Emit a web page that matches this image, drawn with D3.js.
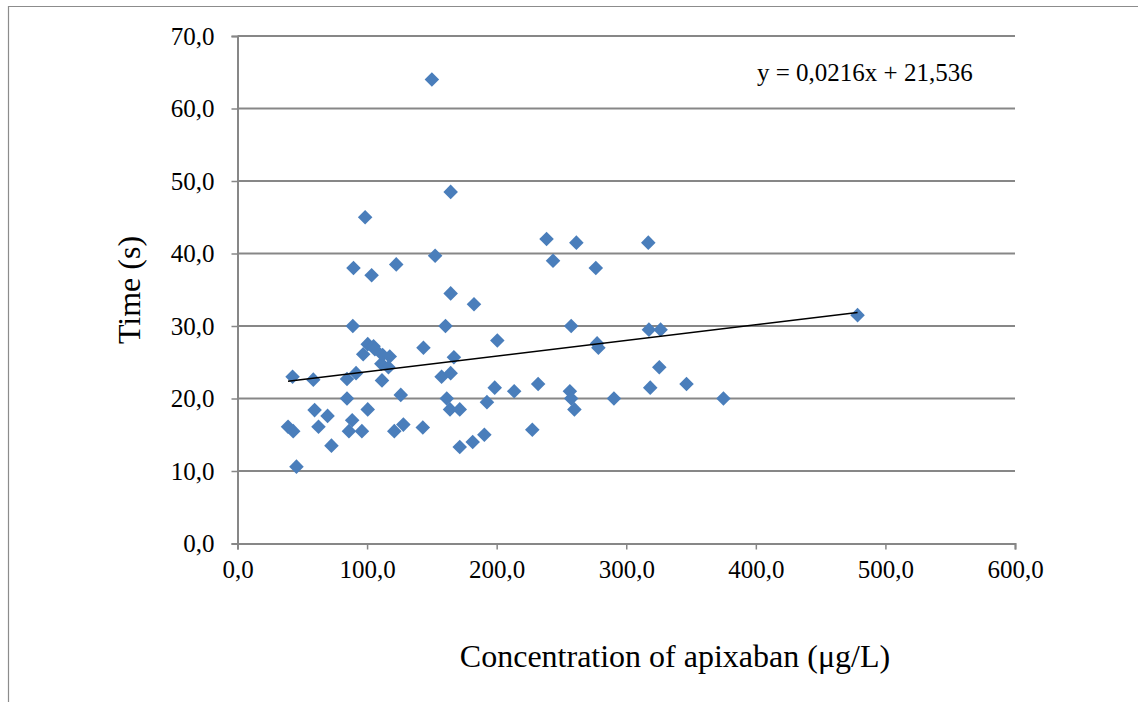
<!DOCTYPE html>
<html><head><meta charset="utf-8">
<script src="https://cdn.jsdelivr.net/npm/d3@7"></script>
<style>body{margin:0;background:#fff}svg{display:block}svg text{font-family:"Liberation Serif","Times New Roman","DejaVu Serif",serif;fill:#000}</style>
</head><body>
<svg id="c" width="1138" height="702"></svg>
<script>
const concentration = [39,43,42.5,45.5,58.5,59.5,62.5,69.5,72.5,84.5,84.5,86,88.5,89,89.5,91.5,96,97,98.5,100.5,100.5,103.5,105,106,111,112,111.5,116.5,117.5,121,122.5,126,128,143.5,143,150,152.5,157.5,160.5,161.5,164,164.5,164.5,164.5,167,171.5,171.5,181.5,182.5,190.5,192.5,198.5,200.5,213.5,227.5,232,238.5,243.5,256.5,257.5,257.5,260,261.5,276.5,277.5,278.5,290.5,317,317.5,318.5,325.5,326.5,346.5,375,478.5];
const time = [16.1,15.5,23.0,10.6,22.6,18.4,16.1,17.6,13.5,22.7,20.0,15.5,17.0,30.0,38.0,23.5,15.5,26.1,45.0,27.5,18.5,37.0,27.2,26.8,24.8,26.0,22.5,24.3,25.8,15.5,38.5,20.5,16.4,27.0,16.0,64.0,39.7,23.0,30.0,20.0,18.5,23.5,34.5,48.5,25.7,18.5,13.3,14.0,33.0,15.0,19.5,21.5,28.0,21.0,15.7,22.0,42.0,39.0,21.0,20.0,30.0,18.5,41.5,38.0,27.6,27.0,20.0,41.5,29.5,21.5,24.3,29.5,22.0,20.0,31.5];
const xTicks = [0,100,200,300,400,500,600];
const yTicks = [0,10,20,30,40,50,60,70];
const slope = 0.0216, intercept = 21.536;
const equationText = "y = 0,0216x + 21,536";
const xTitle = "Concentration of apixaban (μg/L)";
const yTitle = "Time (s)";

const svg = d3.select("#c");
const fmt = d => d3.format(".1f")(d).replace(".", ",");
const x = d3.scaleLinear().domain([0,600]).range([237.5,1015]);
const y = d3.scaleLinear().domain([0,70]).range([543.5,36]);
const grey = "#878787";

// outer frame
svg.append("path").attr("d","M8.5,702 L8.5,6.5 L1138,6.5").attr("fill","none").attr("stroke","#8c8c8c").attr("stroke-width",1.2);

// gridlines
svg.append("g").selectAll("line").data(yTicks.filter(d=>d>0)).join("line")
  .attr("x1",x(0)).attr("x2",x(600)).attr("y1",d=>y(d)).attr("y2",d=>y(d))
  .attr("stroke",grey).attr("stroke-width",2);

// axes
const xa = svg.append("g").attr("transform",`translate(0,${y(0)})`)
  .call(d3.axisBottom(x).tickValues(xTicks).tickFormat(fmt).tickSize(6).tickPadding(11));
const ya = svg.append("g").attr("transform",`translate(${x(0)},0)`)
  .call(d3.axisLeft(y).tickValues(yTicks).tickFormat(fmt).tickSize(6).tickPadding(17));
[xa,ya].forEach(a=>{
  a.attr("font-family",null).attr("font-size",null);
  a.select(".domain").attr("stroke",grey).attr("stroke-width",2);
  a.selectAll(".tick line").attr("stroke",grey).attr("stroke-width",1.5);
  a.selectAll("text").style("font-size","25px");
});

// points
const diamond = d3.symbol().type(d3.symbolDiamond2).size(135);
svg.append("g").selectAll("path").data(concentration.map((c,i)=>[c,time[i]])).join("path")
  .attr("d",diamond).attr("transform",d=>`translate(${x(d[0])},${y(d[1])})`)
  .attr("fill","#4a7ebb");

// trendline
const xmin = d3.min(concentration), xmax = d3.max(concentration);
svg.append("line").attr("x1",x(xmin)).attr("y1",y(slope*xmin+intercept))
  .attr("x2",x(xmax)).attr("y2",y(slope*xmax+intercept))
  .attr("stroke","#000").attr("stroke-width",1.5);

// texts
svg.append("text").attr("x",757).attr("y",81).style("font-size","25px").text(equationText);
svg.append("text").attr("x",675).attr("y",667).attr("text-anchor","middle").style("font-size","32px").text(xTitle);
svg.append("text").attr("transform","translate(140,290) rotate(-90)").attr("text-anchor","middle").style("font-size","32px").text(yTitle);
</script>
</body></html>
